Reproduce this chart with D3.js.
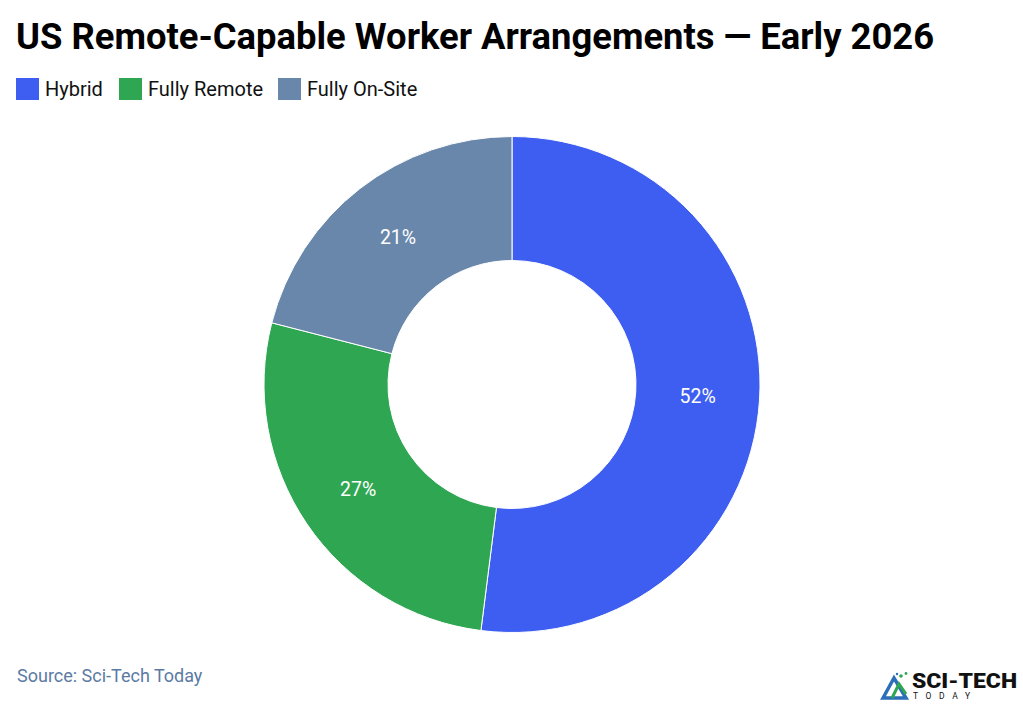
<!DOCTYPE html>
<html>
<head>
<meta charset="utf-8">
<script src="https://cdn.jsdelivr.net/npm/d3@7"></script>
<style>
  body { margin: 0; background: #fff; }
  svg { display: block; font-family: Roboto, "Noto Sans", sans-serif; }
</style>
</head>
<body>
<div id="chart"></div>
<script>
// data
var categories = ["Hybrid", "Fully Remote", "Fully On-Site"];
var shares = [52, 27, 21];
var colors = ["#3d5ef0", "#2fa652", "#6887ab"];

var W = 1023, H = 704;
var cx = 512, cy = 384.5, outerR = 248, innerR = 124;

var svg = d3.select("#chart").append("svg")
  .attr("width", W)
  .attr("height", H);

svg.append("rect").attr("width", W).attr("height", H).attr("fill", "#fff");

// title
svg.append("text")
  .attr("x", 16)
  .attr("y", 49)
  .attr("font-size", "36.4px")
  .attr("font-weight", "bold")
  .attr("fill", "#000")
  .text("US Remote-Capable Worker Arrangements \u2014 Early 2026");

// legend
var legendX = [16, 119, 278];
var legend = svg.append("g").selectAll("g")
  .data(categories)
  .enter().append("g")
  .attr("transform", function(d, i) { return "translate(" + legendX[i] + ",78)"; });

legend.append("rect")
  .attr("width", 23)
  .attr("height", 22)
  .attr("fill", function(d, i) { return colors[i]; });

legend.append("text")
  .attr("x", 29)
  .attr("y", 18)
  .attr("font-size", "20px")
  .attr("fill", "#111")
  .text(function(d) { return d; });

// donut
var pie = d3.pie().sort(null).value(function(d) { return d; });
var arc = d3.arc().innerRadius(innerR).outerRadius(outerR);
var labelArc = d3.arc().innerRadius(186).outerRadius(186);

var g = svg.append("g").attr("transform", "translate(" + cx + "," + cy + ")");

var slices = g.selectAll("g.slice")
  .data(pie(shares))
  .enter().append("g")
  .attr("class", "slice");

slices.append("path")
  .attr("d", arc)
  .attr("fill", function(d, i) { return colors[i]; })
  .attr("stroke", "#fff")
  .attr("stroke-width", 1);

slices.append("text")
  .attr("transform", function(d) { return "translate(" + labelArc.centroid(d) + ")"; })
  .attr("text-anchor", "middle")
  .attr("dy", "0.35em")
  .attr("font-size", "19.5px")
  .attr("fill", "#fff")
  .text(function(d) { return d.data + "%"; });

// source
svg.append("text")
  .attr("x", 17)
  .attr("y", 682)
  .attr("font-size", "18px")
  .attr("fill", "#5b7ba3")
  .text("Source: Sci-Tech Today");

// logo
var logo = svg.append("g").attr("transform", "translate(882,672)");
logo.append("path")
  .attr("d", "M1,26 L12,6 L24,26 Z")
  .attr("fill", "none")
  .attr("stroke", "#2c6fb8")
  .attr("stroke-width", 3.5);
logo.append("path")
  .attr("d", "M10,26 L17,12 L24,22")
  .attr("fill", "none")
  .attr("stroke", "#2fa652")
  .attr("stroke-width", 3);
logo.append("circle").attr("cx", 19).attr("cy", 4).attr("r", 1.8).attr("fill", "#2fa652");
logo.append("circle").attr("cx", 24).attr("cy", 1.5).attr("r", 1.4).attr("fill", "#2fa652");
logo.append("circle").attr("cx", 15).attr("cy", 2).attr("r", 1.2).attr("fill", "#2c6fb8");
logo.append("text")
  .attr("x", 30)
  .attr("y", 16)
  .attr("font-size", "21px")
  .attr("font-weight", "900")
  .attr("textLength", 105)
  .attr("lengthAdjust", "spacingAndGlyphs")
  .attr("fill", "#111")
  .text("SCI-TECH");
logo.append("text")
  .attr("x", 31)
  .attr("y", 27)
  .attr("font-size", "8.5px")
  .attr("textLength", 57)
  .attr("fill", "#111")
  .text("TODAY");
</script>
</body>
</html>
